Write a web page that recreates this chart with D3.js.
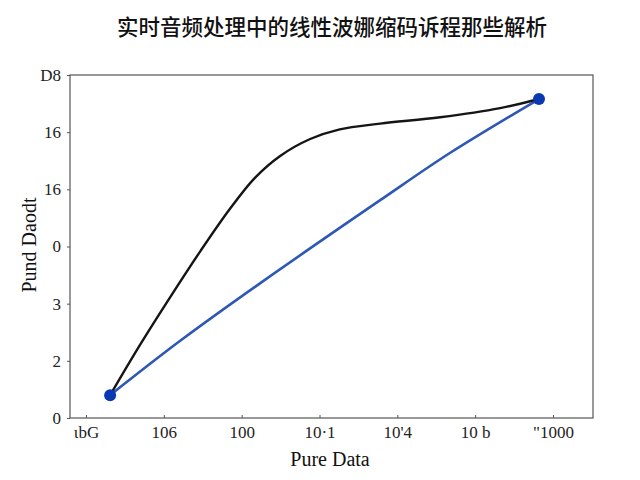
<!DOCTYPE html>
<html>
<head>
<meta charset="utf-8">
<script src="https://cdn.jsdelivr.net/npm/d3@7"></script>
<style>
  body { margin: 0; background: #fff; }
  .tick text { font-family: "Liberation Serif", "DejaVu Serif", serif; font-size: 17px; fill: #222; }
</style>
</head>
<body>
<svg id="chart"></svg>
<script>
// tick labels as printed on the chart
const xLabels = ['ιbG', '106', '100', '10·1', "10'4", '10 b', '"1000'];
const yLabels = ['0', '2', '3', '0', '16', '16', 'D8'];

// black curve, x/y in tick-index units
const curveX = [0.31, 0.69, 1.08, 1.47, 1.85, 2.17, 2.49, 2.88, 3.26, 3.78, 4.55, 5.32, 5.82];
const curveY = [0.40, 1.27, 2.11, 2.92, 3.66, 4.20, 4.58, 4.88, 5.05, 5.15, 5.26, 5.42, 5.58];

// blue line
const lineX = [0.31, 1.21, 2.24, 3.78, 4.68, 5.82];
const lineY = [0.40, 1.35, 2.36, 3.81, 4.64, 5.58];

// end markers
const dotX = [0.31, 5.82];
const dotY = [0.40, 5.58];

const width = 640, height = 480;
const m = { left: 70, right: 593, top: 75, bottom: 418 };

const svg = d3.select('#chart')
  .attr('width', width)
  .attr('height', height);

const x = d3.scaleLinear().domain([0, 6]).range([86, 553]);
const y = d3.scaleLinear().domain([0, 6]).range([m.bottom, m.top]);

// frame
svg.append('rect')
  .attr('x', m.left)
  .attr('y', m.top)
  .attr('width', m.right - m.left)
  .attr('height', m.bottom - m.top)
  .attr('fill', 'none')
  .attr('stroke', '#555')
  .attr('stroke-width', 1.2);

const xAxis = svg.append('g')
  .attr('transform', `translate(0,${m.bottom})`)
  .call(d3.axisBottom(x)
    .tickValues(d3.range(xLabels.length))
    .tickFormat(i => xLabels[i])
    .tickSize(-3)
    .tickPadding(8));
xAxis.select('.domain').remove();
xAxis.selectAll('.tick line').attr('stroke', '#555');

const yAxis = svg.append('g')
  .attr('transform', `translate(${m.left},0)`)
  .call(d3.axisLeft(y)
    .tickValues(d3.range(yLabels.length))
    .tickFormat(i => yLabels[i])
    .tickSize(3)
    .tickPadding(6));
yAxis.select('.domain').remove();
yAxis.selectAll('.tick line').attr('stroke', '#555');

const curve = curveX.map((v, i) => [v, curveY[i]]);
const line = lineX.map((v, i) => [v, lineY[i]]);

const gen = d3.line()
  .x(d => x(d[0]))
  .y(d => y(d[1]))
  .curve(d3.curveCatmullRom.alpha(0.5));

svg.append('path')
  .datum(line)
  .attr('d', gen)
  .attr('fill', 'none')
  .attr('stroke', '#2d58b5')
  .attr('stroke-width', 2.6);

svg.append('path')
  .datum(curve)
  .attr('d', gen)
  .attr('fill', 'none')
  .attr('stroke', '#151515')
  .attr('stroke-width', 2.4);

svg.selectAll('.dot')
  .data(dotX.map((v, i) => [v, dotY[i]]))
  .enter()
  .append('circle')
  .attr('class', 'dot')
  .attr('cx', d => x(d[0]))
  .attr('cy', d => y(d[1]))
  .attr('r', 6)
  .attr('fill', '#0a38b0');

svg.append('text')
  .attr('x', 332)
  .attr('y', 35)
  .attr('text-anchor', 'middle')
  .attr('font-family', '"Noto Sans CJK SC", sans-serif')
  .attr('font-size', 21.5)
  .attr('font-weight', 500)
  .attr('fill', '#111')
  .text('实时音频处理中的线性波娜缩码诉程那些解析');

svg.append('text')
  .attr('x', 330)
  .attr('y', 466)
  .attr('text-anchor', 'middle')
  .attr('font-family', '"Liberation Serif", "DejaVu Serif", serif')
  .attr('font-size', 20)
  .attr('fill', '#111')
  .text('Pure Data');

svg.append('text')
  .attr('transform', 'translate(36,245) rotate(-90)')
  .attr('text-anchor', 'middle')
  .attr('font-family', '"Liberation Serif", "DejaVu Serif", serif')
  .attr('font-size', 20)
  .attr('fill', '#111')
  .text('Pund Daodt');
</script>
</body>
</html>
